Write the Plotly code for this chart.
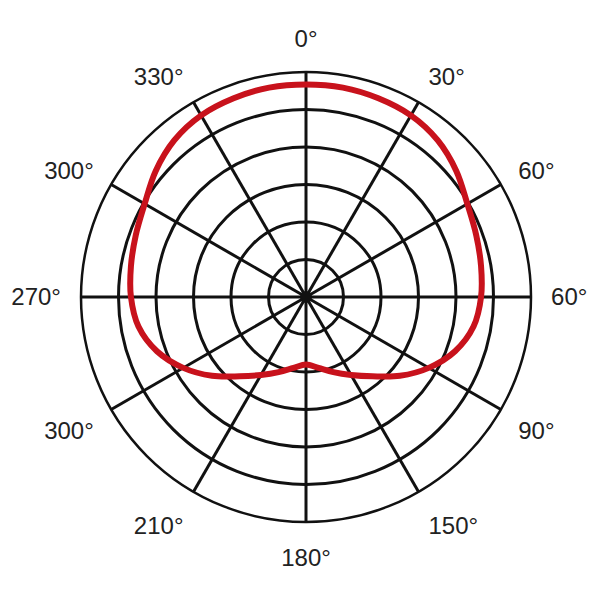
import plotly.graph_objects as go

# Polar response (fraction of outer ring), symmetric pattern
angles = [0, 10, 20, 30, 40, 50, 60, 70, 80, 90, 100, 110, 120, 130, 140, 150, 160, 170, 180,
          190, 200, 210, 220, 230, 240, 250, 260, 270, 280, 290, 300, 310, 320, 330, 340, 350, 360]
response = [0.945, 0.945, 0.94, 0.932, 0.91, 0.872, 0.828, 0.805, 0.79, 0.778, 0.756, 0.705, 0.63,
            0.545, 0.46, 0.40, 0.355, 0.32, 0.30,
            0.32, 0.355, 0.40, 0.46, 0.545, 0.63, 0.705, 0.756, 0.778, 0.79, 0.805, 0.828, 0.872,
            0.91, 0.932, 0.94, 0.945, 0.945]

tick_angles = [0, 30, 60, 90, 120, 150, 180, 210, 240, 270, 300, 330]
tick_labels = ["0°", "30°", "60°", "60°", "90°", "150°", "180°", "210°", "300°", "270°", "300°", "330°"]
ring_values = [1/6, 2/6, 3/6, 4/6, 5/6, 1.0]
center_r = [0]
center_theta = [0]

fig = go.Figure()
fig.add_trace(go.Scatterpolar(
    r=response, theta=angles, mode="lines",
    line=dict(color="#c8121c", width=6, shape="spline", smoothing=1.0),
    hoverinfo="skip", showlegend=False,
))
fig.add_trace(go.Scatterpolar(
    r=center_r, theta=center_theta, mode="markers",
    marker=dict(color="#111111", size=12),
    hoverinfo="skip", showlegend=False,
))

fig.update_layout(
    width=600, height=600,
    paper_bgcolor="white",
    margin=dict(l=73, r=77, t=64, b=86),
    font=dict(family="Liberation Sans, Arial, sans-serif", size=24, color="#222222"),
    polar=dict(
        bgcolor="white",
        domain=dict(x=[0, 1], y=[0, 1]),
        radialaxis=dict(
            range=[0, 1], tickmode="array", tickvals=ring_values,
            showticklabels=False, ticks="", showline=False,
            gridcolor="#111111", gridwidth=2.5,
        ),
        angularaxis=dict(
            direction="clockwise", rotation=90,
            tickmode="array", tickvals=tick_angles, ticktext=tick_labels,
            ticks="outside", ticklen=14, tickcolor="rgba(0,0,0,0)",
            showline=True, linecolor="#111111", linewidth=2.5,
            gridcolor="#111111", gridwidth=2.5,
            tickfont=dict(size=24, color="#222222"),
        ),
    ),
)

fig.write_html("out.html")
